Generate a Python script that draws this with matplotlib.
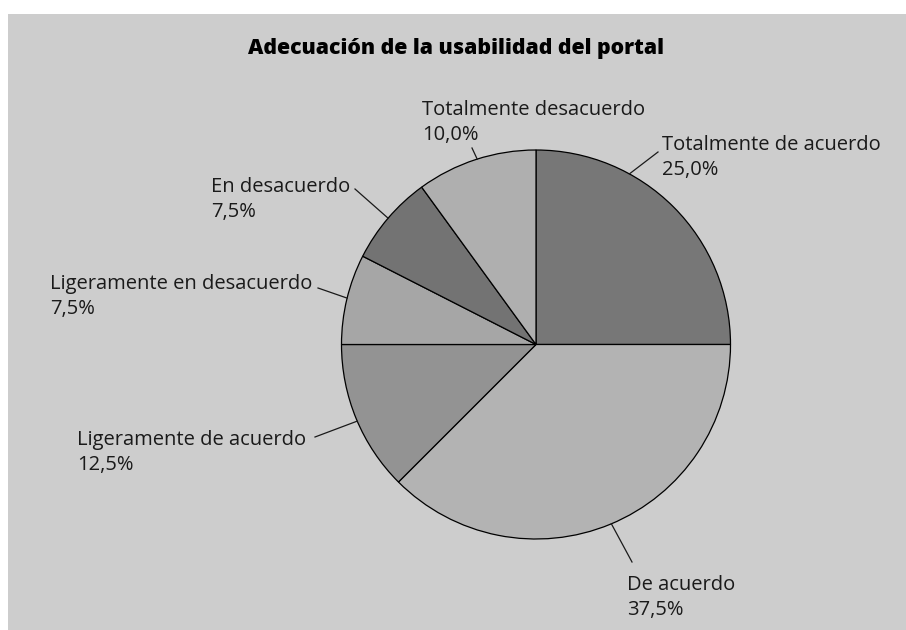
import numpy as np
import matplotlib
matplotlib.use("Agg")
import matplotlib.pyplot as plt
from matplotlib.patches import Rectangle

# data
categories = ["Totalmente de acuerdo", "De acuerdo", "Ligeramente de acuerdo",
              "Ligeramente en desacuerdo", "En desacuerdo", "Totalmente desacuerdo"]
shares = [25.0, 37.5, 12.5, 7.5, 7.5, 10.0]
colors = ["#777777", "#b3b3b3", "#939393", "#a6a6a6", "#737373", "#afafaf"]
title = "Adecuación de la usabilidad del portal"

# layout (pixel coords, y measured from top)
W, H = 906, 630
cx, cy, r = 536, 344.5, 194.5
# label left x, baseline of first line, leader anchor angle on rim (deg), leader outer end
label_pos = [(662, 150), (627, 590), (77, 445), (50, 289), (211, 192), (422, 115)]
anchor_deg = [61.3, 292.8, 203.2, 166.2, 139.5, 107.6]
leader_end = [(658, 152), (632, 562), (315, 437), (318, 288), (355, 189), (472, 148)]
line_gap = 25

plt.rcParams["font.family"] = ["Open Sans", "DejaVu Sans"]

fig = plt.figure(figsize=(W / 100, H / 100), dpi=100, facecolor="white")
ax = fig.add_axes([0, 0, 1, 1])


def py(y):
    return H - y


ax.add_patch(Rectangle((8, 0), W - 8, H - 14, facecolor="#cdcdcd",
                       edgecolor="none", zorder=0))

ax.pie(shares, colors=colors, startangle=90, counterclock=False,
       center=(cx, py(cy)), radius=r,
       wedgeprops=dict(edgecolor="black", linewidth=0.9))

for cat, val, (lx, ly), ang, (ex, ey) in zip(categories, shares, label_pos,
                                              anchor_deg, leader_end):
    a = np.deg2rad(ang)
    sx, sy = cx + r * np.cos(a), py(cy) + r * np.sin(a)
    ax.plot([sx, ex], [sy, py(ey)], color="#1a1a1a", linewidth=0.9, zorder=5)
    pct = f"{val:.1f}%".replace(".", ",")
    ax.text(lx, py(ly), cat, fontsize=14.5, color="#1a1a1a",
            ha="left", va="baseline")
    ax.text(lx, py(ly + line_gap), pct, fontsize=14.5, color="#1a1a1a",
            ha="left", va="baseline")

ax.text(456, py(54), title, fontsize=15.3, fontweight="heavy",
        ha="center", va="baseline", color="black")

ax.set_xlim(0, W)
ax.set_ylim(0, H)
ax.set_aspect("auto")
ax.axis("off")

fig.savefig("out.png", dpi=100, facecolor="white")
